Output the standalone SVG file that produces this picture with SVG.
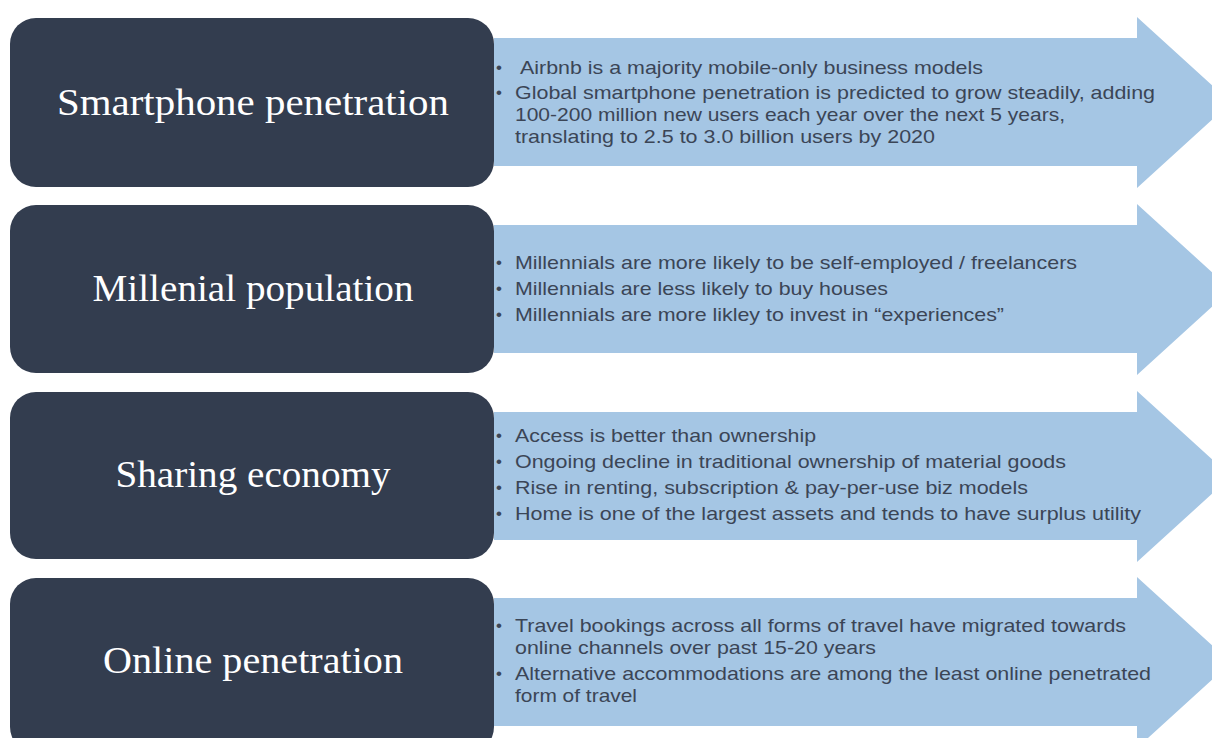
<svg xmlns="http://www.w3.org/2000/svg" width="1212" height="738" viewBox="0 0 1212 738">
<style>
.arrow{fill:#a5c6e4}
.box{fill:#333d4f}
.title{font-family:"Liberation Serif","Times New Roman",serif;font-size:37px;fill:#ffffff;text-anchor:middle}
.b{font-family:"Liberation Sans",Arial,sans-serif;font-size:19px;fill:#3b4556}
.dot{font-family:"Liberation Sans",Arial,sans-serif;font-size:17px;fill:#3b4556}
</style>
<defs>
<polygon id="arr" points="494,38 1137,38 1137,17 1231,102.5 1137,188 1137,166 494,166"/>
</defs>
<rect width="1212" height="738" fill="#ffffff"/>
<g id="connectors">
<use href="#arr" class="arrow"/>
<use href="#arr" class="arrow" y="187"/>
<use href="#arr" class="arrow" y="374"/>
<use href="#arr" class="arrow" y="560"/>
</g>
<g id="row1">
<rect class="box" x="10" y="18" width="484" height="169" rx="26"/>
<text class="title" x="253" y="115" textLength="392" lengthAdjust="spacingAndGlyphs">Smartphone penetration</text>
<text class="dot" x="496" y="73">•</text>
<text class="b" x="520" y="74" textLength="463" lengthAdjust="spacingAndGlyphs">Airbnb is a majority mobile-only business models</text>
<text class="dot" x="496" y="98">•</text>
<text class="b" x="515" y="99" textLength="640" lengthAdjust="spacingAndGlyphs">Global smartphone penetration is predicted to grow steadily, adding</text>
<text class="b" x="515" y="121" textLength="550" lengthAdjust="spacingAndGlyphs">100-200 million new users each year over the next 5 years,</text>
<text class="b" x="515" y="143" textLength="420" lengthAdjust="spacingAndGlyphs">translating to 2.5 to 3.0 billion users by 2020</text>
</g>
<g id="row2">
<rect class="box" x="10" y="205" width="484" height="168" rx="26"/>
<text class="title" x="253" y="301" textLength="321" lengthAdjust="spacingAndGlyphs">Millenial population</text>
<text class="dot" x="496" y="268">•</text>
<text class="b" x="515" y="269" textLength="562" lengthAdjust="spacingAndGlyphs">Millennials are more likely to be self-employed / freelancers</text>
<text class="dot" x="496" y="294">•</text>
<text class="b" x="515" y="295" textLength="373" lengthAdjust="spacingAndGlyphs">Millennials are less likely to buy houses</text>
<text class="dot" x="496" y="320">•</text>
<text class="b" x="515" y="321" textLength="489" lengthAdjust="spacingAndGlyphs">Millennials are more likley to invest in “experiences”</text>
</g>
<g id="row3">
<rect class="box" x="10" y="392" width="484" height="167" rx="26"/>
<text class="title" x="253" y="487" textLength="275" lengthAdjust="spacingAndGlyphs">Sharing economy</text>
<text class="dot" x="496" y="441">•</text>
<text class="b" x="515" y="442" textLength="301" lengthAdjust="spacingAndGlyphs">Access is better than ownership</text>
<text class="dot" x="496" y="467">•</text>
<text class="b" x="515" y="468" textLength="551" lengthAdjust="spacingAndGlyphs">Ongoing decline in traditional ownership of material goods</text>
<text class="dot" x="496" y="493">•</text>
<text class="b" x="515" y="494" textLength="513" lengthAdjust="spacingAndGlyphs">Rise in renting, subscription &amp; pay-per-use biz models</text>
<text class="dot" x="496" y="519">•</text>
<text class="b" x="515" y="520" textLength="626" lengthAdjust="spacingAndGlyphs">Home is one of the largest assets and tends to have surplus utility</text>
</g>
<g id="row4">
<rect class="box" x="10" y="578" width="484" height="175" rx="26"/>
<text class="title" x="253" y="673" textLength="300" lengthAdjust="spacingAndGlyphs">Online penetration</text>
<text class="dot" x="496" y="631">•</text>
<text class="b" x="515" y="632" textLength="611" lengthAdjust="spacingAndGlyphs">Travel bookings across all forms of travel have migrated towards</text>
<text class="b" x="515" y="654" textLength="361" lengthAdjust="spacingAndGlyphs">online channels over past 15-20 years</text>
<text class="dot" x="496" y="679">•</text>
<text class="b" x="515" y="680" textLength="636" lengthAdjust="spacingAndGlyphs">Alternative accommodations are among the least online penetrated</text>
<text class="b" x="515" y="702" textLength="122" lengthAdjust="spacingAndGlyphs">form of travel</text>
</g>
</svg>
